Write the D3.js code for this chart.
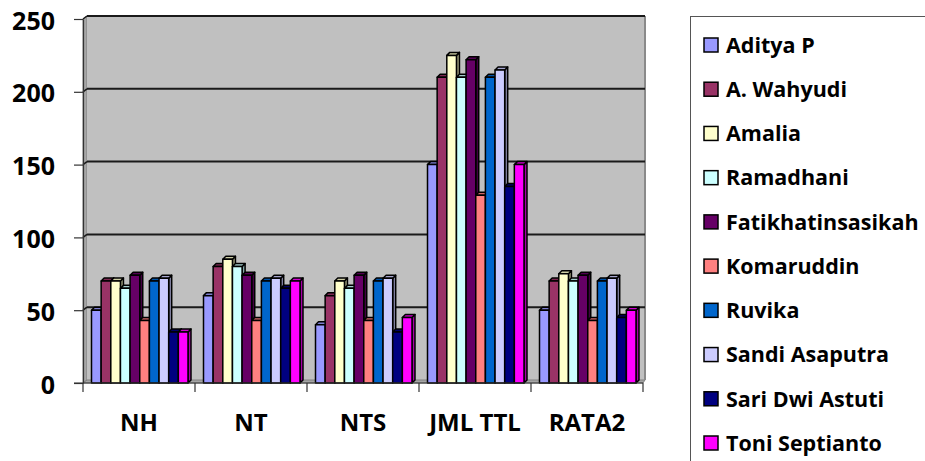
<!DOCTYPE html>
<html>
<head>
<meta charset="utf-8">
<script src="https://cdn.jsdelivr.net/npm/d3@7"></script>
<style>
  html, body { margin: 0; padding: 0; background: #fff; }
  svg { display: block; }
  text { font-family: "Open Sans", sans-serif; font-weight: bold; fill: #000; }
</style>
</head>
<body>
<script>
// ---- data ----
const categories = ["NH", "NT", "NTS", "JML TTL", "RATA2"];
const seriesNames = ["Aditya P", "A. Wahyudi", "Amalia", "Ramadhani", "Fatikhatinsasikah",
  "Komaruddin", "Ruvika", "Sandi Asaputra", "Sari Dwi Astuti", "Toni Septianto"];
const adityaP       = [50, 60, 40, 150, 50];
const aWahyudi      = [70, 80, 60, 210, 70];
const amalia        = [70, 85, 70, 225, 75];
const ramadhani     = [65, 80, 65, 210, 70];
const fatikhatinsasikah = [74, 74, 74, 222, 74];
const komaruddin    = [43, 43, 43, 129, 43];
const ruvika        = [70, 70, 70, 210, 70];
const sandiAsaputra = [72, 72, 72, 215, 72];
const sariDwiAstuti = [35, 65, 35, 135, 45];
const toniSeptianto = [35, 70, 45, 150, 50];
const seriesValues = [adityaP, aWahyudi, amalia, ramadhani, fatikhatinsasikah,
  komaruddin, ruvika, sandiAsaputra, sariDwiAstuti, toniSeptianto];
const colors = ["#9999FF", "#993366", "#FFFFCC", "#CCFFFF", "#660066",
  "#FF8080", "#0066CC", "#CCCCFF", "#000080", "#FF00FF"];
const yTicks = [0, 50, 100, 150, 200, 250];

// ---- layout ----
const W = 925, H = 461;
const svg = d3.select("body").append("svg").attr("width", W).attr("height", H);

const y = d3.scaleLinear().domain([0, 250]).range([383, 19]);
const x0 = d3.scaleBand().domain(categories).range([83, 643]).padding(0);
const x1 = d3.scaleBand().domain(seriesNames).range([8.5, 105]).padding(0);

const wdx = 4, wdy = 3;  // wall depth offset
const bdx = 3, bdy = 3;  // bar depth offset
const left = 83, right = 643;

// side wall
svg.append("path")
  .attr("d", `M${left},${y(250)} L${left + wdx},${y(250) - wdy} L${left + wdx},${y(0) - wdy} L${left},${y(0)} Z`)
  .attr("fill", "#A6A6A6").attr("stroke", "#808080").attr("stroke-width", 1);
// back wall
svg.append("rect")
  .attr("x", left + wdx).attr("y", y(250) - wdy)
  .attr("width", right - left - 2).attr("height", y(0) - y(250))
  .attr("fill", "#C0C0C0");
// floor
svg.append("path")
  .attr("d", `M${left},${y(0)} L${left + wdx},${y(0) - wdy} L${right + 2},${y(0) - wdy} L${right},${y(0)} Z`)
  .attr("fill", "#A6A6A6").attr("stroke", "#808080").attr("stroke-width", 1);
// wall right edge
svg.append("line")
  .attr("x1", right + 2).attr("x2", right + 2)
  .attr("y1", y(250) - wdy).attr("y2", y(0) - wdy)
  .attr("stroke", "#8a8a8a").attr("stroke-width", 2);

// gridlines on back wall and side wall
yTicks.filter(t => t > 0).forEach(t => {
  svg.append("line")
    .attr("x1", left + wdx).attr("x2", right + 2)
    .attr("y1", y(t) - wdy).attr("y2", y(t) - wdy)
    .attr("stroke", "#1a1a1a").attr("stroke-width", 2);
  svg.append("line")
    .attr("x1", left).attr("x2", left + wdx)
    .attr("y1", y(t)).attr("y2", y(t) - wdy)
    .attr("stroke", "#1a1a1a").attr("stroke-width", 1.5);
});

// bars
const barsG = svg.append("g");
categories.forEach((cat, ci) => {
  seriesNames.forEach((s, si) => {
    const v = seriesValues[si][ci];
    const xL = x0(cat) + x1(s);
    const w = x1.bandwidth();
    const yt = y(v), yb = y(0);
    const c = colors[si];
    const g = barsG.append("g").attr("stroke", "#000").attr("stroke-width", 1.5).attr("stroke-linejoin", "round");
    // side face
    g.append("path")
      .attr("d", `M${xL + w},${yt} L${xL + w + bdx},${yt - bdy} L${xL + w + bdx},${yb - bdy} L${xL + w},${yb} Z`)
      .attr("fill", d3.color(c).darker(1.2));
    // top face
    g.append("path")
      .attr("d", `M${xL},${yt} L${xL + bdx},${yt - bdy} L${xL + w + bdx},${yt - bdy} L${xL + w},${yt} Z`)
      .attr("fill", d3.color(c).darker(0.6));
    // front face
    g.append("rect")
      .attr("x", xL).attr("y", yt).attr("width", w).attr("height", yb - yt)
      .attr("fill", c);
  });
});

// y axis
const yAxis = d3.axisLeft(y).tickValues(yTicks).tickSize(9).tickSizeOuter(0).tickPadding(0);
const yg = svg.append("g").attr("transform", `translate(${left},0)`).call(yAxis);
yg.select(".domain").attr("stroke", "#333").attr("stroke-width", 1.2);
yg.selectAll(".tick line").attr("stroke", "#333").attr("stroke-width", 1.2);
yg.selectAll(".tick text")
  .attr("x", 55 - left).attr("dy", "0.4em")
  .style("font-family", "'Open Sans', sans-serif").style("font-weight", "bold")
  .style("font-size", "25px").attr("fill", "#000").attr("text-anchor", "end");

// x axis
svg.append("line")
  .attr("x1", 74).attr("x2", right).attr("y1", y(0)).attr("y2", y(0))
  .attr("stroke", "#333").attr("stroke-width", 1.2);
const xBounds = categories.map(c => x0(c)).concat([x0(categories[categories.length - 1]) + x0.bandwidth()]);
svg.selectAll(".xtick").data(xBounds).enter().append("line")
  .attr("x1", d => d).attr("x2", d => d).attr("y1", y(0)).attr("y2", y(0) + 9)
  .attr("stroke", "#333").attr("stroke-width", 1.2);
svg.selectAll(".xlabel").data(categories).enter().append("text")
  .attr("x", d => x0(d) + x0.bandwidth() / 2).attr("y", 431)
  .attr("text-anchor", "middle").style("font-size", "24px")
  .text(d => d);

// legend
const lg = svg.append("g");
lg.append("rect").attr("x", 690.5).attr("y", 16.5).attr("width", 260).attr("height", 460)
  .attr("fill", "#fff").attr("stroke", "#555").attr("stroke-width", 1);
const ly = d3.scalePoint().domain(seriesNames).range([45, 443]);
seriesNames.forEach((s, i) => {
  lg.append("rect").attr("x", 704).attr("y", ly(s) - 7).attr("width", 14).attr("height", 14)
    .attr("fill", colors[i]).attr("stroke", "#000").attr("stroke-width", 1.5);
  lg.append("text").attr("x", 726).attr("y", ly(s)).attr("dy", "0.36em")
    .style("font-size", "21.5px").text(s);
});
</script>
</body>
</html>
